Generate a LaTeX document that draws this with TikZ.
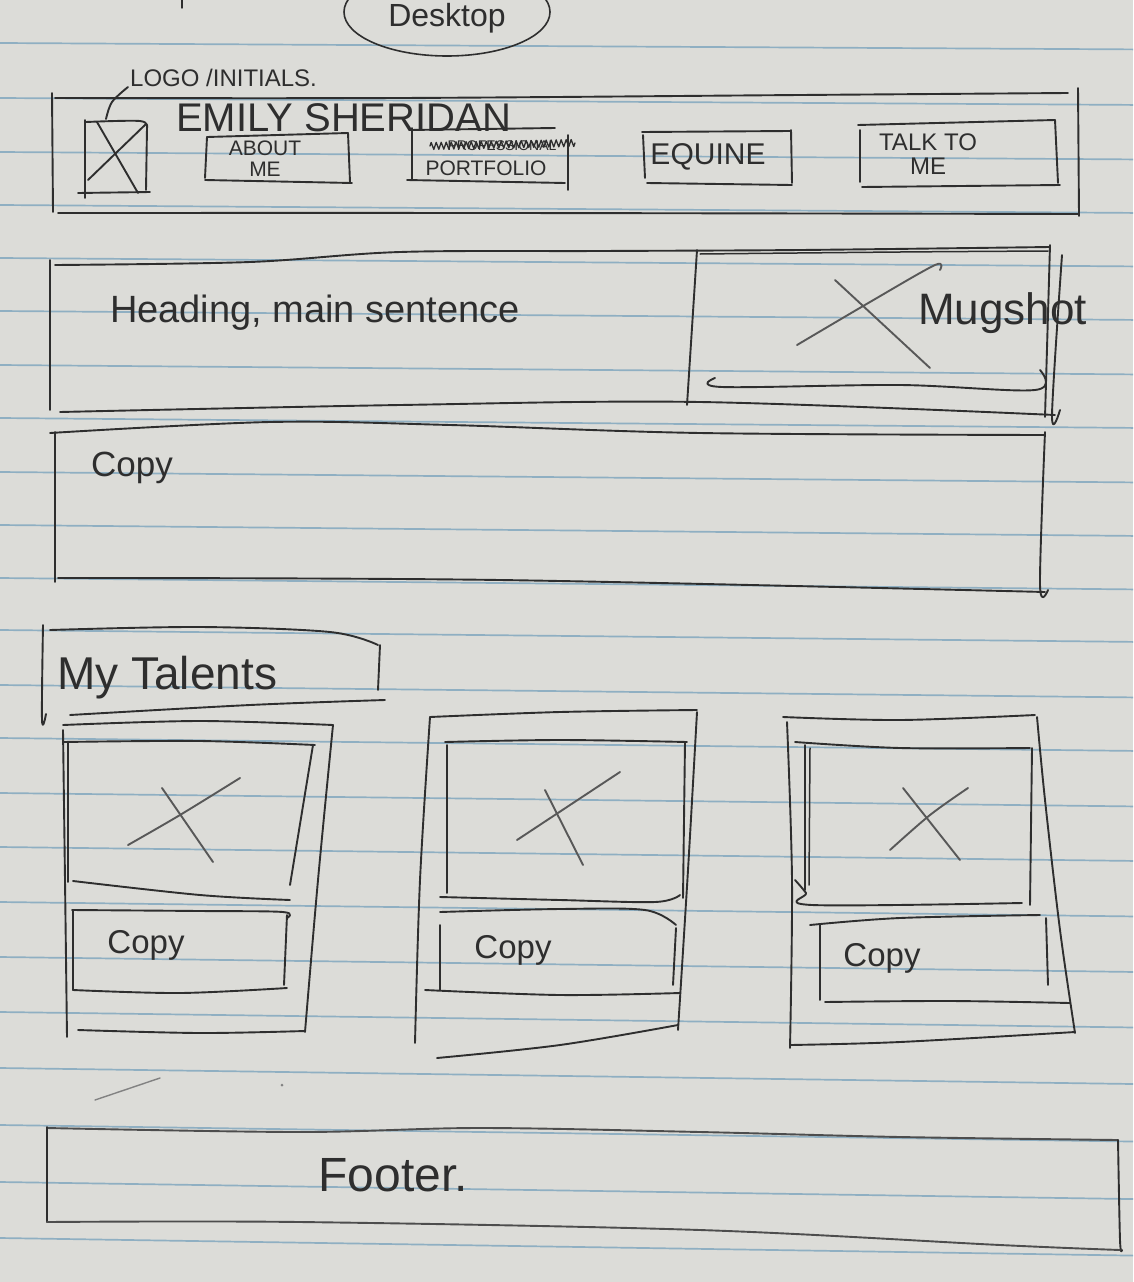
\documentclass[tikz,border=0pt]{standalone}
\usepackage{fontspec}
\setmainfont{Liberation Sans}
\usetikzlibrary{decorations.pathmorphing}
\definecolor{paper}{HTML}{DCDCD8}
\definecolor{ruling}{HTML}{8FAFC2}
\definecolor{ink}{HTML}{2E2E2E}
\newcommand\hsz[1]{\fontsize{#1}{#1}\selectfont}
% one hand-drawn stroke through the given points
\newcommand\penline[2][]{\draw[pen,#1] plot[smooth,tension=.55] coordinates {#2};}
\begin{document}
\begin{tikzpicture}[x=1pt,y=-1pt,
  pen/.style={draw=ink,line width=1.9pt,line cap=round,line join=round},
  rule/.style={draw=ruling,line width=1.7pt},
  hand/.style={text=ink,inner sep=0pt,align=center}]
\useasboundingbox (0,0) rectangle (1133,1282);
\fill[paper] (0,0) rectangle (1133,1282);

% ruled paper
\foreach \yy in {43,98,152,205,258,311,365,418,472,525,578,630,685,738,793,847,902,957,1012,1068,1125,1182,1238}{
  \pgfmathsetmacro\dd{6+12*\yy/1282}
  \draw[rule] (0,\yy) -- (1133,\yy+\dd);
}

% ---------- page label ----------
\draw[pen,line width=1.6pt] (447,12) ellipse [x radius=103, y radius=44];
\node[hand,font=\hsz{32}] (desk) at (447,18) {Desktop};
\penline[line width=1.4pt]{(182,0) (182,8)}

% ---------- header ----------
\penline{(52,93) (53,212)}
\penline{(55,98) (400,98) (800,95) (1068,93)}
\penline{(1078,88) (1079,216)}
\penline{(58,213) (500,213) (1078,214)}

% logo placeholder
\penline{(86,122) (140,121) (147,128)}
\penline{(147,128) (146,190)}
\penline{(78,193) (150,192)}
\penline{(85,120) (85,198)}
\penline{(88,180) (146,124)}
\penline{(97,122) (138,193)}
\penline{(106,119) (112,102) (128,87)}
\node[hand,font=\hsz{24},anchor=base west] (logolabel) at (130,86) {LOGO /INITIALS.};

\node[hand,font=\hsz{40},anchor=base west] (name) at (176,131) {EMILY SHERIDAN};

% navigation buttons
\penline{(207,137) (348,133)}
\penline{(348,133) (350,182)}
\penline{(205,180) (352,183)}
\penline{(207,137) (205,178)}
\node[hand,font=\hsz{21}] (about) at (265,159) {ABOUT\\ME};

\penline{(410,130) (555,128)}
\penline{(568,135) (568,190)}
\penline{(407,180) (565,183)}
\penline{(412,128) (412,180)}
\node[hand,font=\hsz{14}] (prof) at (502,146) {PROFESSIONAL};
\draw[pen,line width=1.3pt,decorate,decoration={zigzag,segment length=5pt,amplitude=3.5pt}] (430,146) -- (575,143);
\node[hand,font=\hsz{21}] (portfolio) at (486,168) {PORTFOLIO};

\penline{(642,132) (790,131)}
\penline{(791,130) (792,183)}
\penline{(647,183) (792,185)}
\penline{(643,135) (645,178)}
\node[hand,font=\hsz{30}] (equine) at (708,157) {EQUINE};

\penline{(858,125) (1055,120)}
\penline{(1055,120) (1058,183)}
\penline{(862,187) (1060,185)}
\penline{(860,130) (860,182)}
\node[hand,font=\hsz{24}] (talk) at (928,154) {TALK TO\\ME};

% ---------- hero ----------
\penline{(50,260) (50,410)}
\penline{(55,265) (250,262) (400,252) (600,251) (800,250) (1050,247)}
\penline[line width=1.5pt]{(700,254) (900,252) (1048,251)}
\penline{(697,250) (687,405)}
\penline{(60,412) (400,405) (700,402) (1055,415)}
\node[hand,font=\hsz{38}] (heading) at (315,313) {Heading, main sentence};

% portrait placeholder
\penline{(1050,245) (1045,417)}
\penline{(1062,255) (1052,415) (1060,410)}
\penline{(715,378) (722,387) (900,385) (1035,390) (1040,370)}
\penline[draw=ink!80]{(797,345) (870,302) (935,265) (940,270)}
\penline[draw=ink!80]{(835,280) (930,368)}
\node[hand,font=\hsz{44},anchor=base west] (mug) at (918,324) {Mugshot};

% ---------- intro copy ----------
\penline{(55,432) (55,582)}
\penline{(50,433) (270,422) (450,425) (700,433) (1045,435)}
\penline{(1045,432) (1040,585) (1048,590)}
\penline{(58,578) (500,580) (1045,592)}
\node[hand,font=\hsz{35}] (copy) at (132,468) {Copy};

% ---------- talents ----------
\penline{(43,625) (42,720) (46,714)}
\penline{(50,630) (200,627) (330,632) (378,645)}
\penline{(380,645) (378,690)}
\penline{(70,715) (250,705) (385,700)}
\node[hand,font=\hsz{46},anchor=base west] (talents) at (57,689) {My Talents};

% card 1
\penline{(63,725) (200,721) (333,725)}
\penline{(333,725) (318,880) (305,1032)}
\penline{(78,1030) (200,1033) (305,1031)}
\penline{(63,730) (65,880) (67,1037)}
\penline{(63,742) (200,741) (315,745)}
\penline{(68,742) (68,882)}
\penline{(313,745) (290,885)}
\penline{(73,881) (200,895) (290,900)}
\penline[draw=ink!80]{(128,845) (180,815) (240,778)}
\penline[draw=ink!80]{(162,788) (213,862)}
\penline{(72,910) (200,911) (283,912) (287,918)}
\penline{(73,910) (73,990)}
\penline{(287,915) (284,985)}
\penline{(73,990) (180,993) (287,988)}
\node[hand,font=\hsz{33}] (copya) at (146,945) {Copy};

% card 2
\penline{(430,717) (560,712) (697,710)}
\penline{(697,712) (688,870) (678,1030)}
\penline{(437,1058) (560,1045) (678,1025)}
\penline{(430,717) (420,880) (415,1043)}
\penline{(445,742) (560,740) (687,742)}
\penline{(447,745) (447,893)}
\penline{(685,742) (683,898)}
\penline{(440,897) (560,900) (655,902) (680,895)}
\penline[draw=ink!80]{(517,840) (570,805) (620,772)}
\penline[draw=ink!80]{(545,790) (583,865)}
\penline{(440,912) (560,909) (645,910) (676,925)}
\penline{(440,925) (440,990)}
\penline{(676,928) (673,985)}
\penline{(425,990) (560,995) (680,993)}
\node[hand,font=\hsz{33}] (copyb) at (513,950) {Copy};

% card 3
\penline{(783,717) (900,720) (1035,715)}
\penline{(1037,717) (1045,800) (1060,930) (1075,1033)}
\penline{(790,1045) (900,1042) (1075,1032)}
\penline{(787,722) (792,880) (790,1048)}
\penline{(795,742) (900,748) (1030,748)}
\penline{(805,745) (805,890)}
\penline[line width=1.5pt]{(810,748) (809,885)}
\penline{(1032,748) (1030,905)}
\penline{(795,880) (806,893) (812,905) (1022,903)}
\penline[draw=ink!80]{(890,850) (930,815) (968,788)}
\penline[draw=ink!80]{(903,788) (960,860)}
\penline{(810,925) (900,918) (1040,915)}
\penline{(820,925) (820,1000)}
\penline{(1046,918) (1048,985)}
\penline{(825,1002) (950,1001) (1070,1003)}
\node[hand,font=\hsz{33}] (copyc) at (882,958) {Copy};

% stray pen marks
\penline[draw=ink!60,line width=1.4pt]{(95,1100) (160,1078)}
\fill[ink!60] (282,1085) circle (1.5);

% ---------- footer ----------
\penline[draw=ink!85]{(47,1128) (300,1132) (480,1128) (700,1132) (900,1137) (1118,1140)}
\penline{(47,1127) (47,1222)}
\penline{(1118,1140) (1120,1240) (1122,1250)}
\penline[draw=ink!85]{(47,1222) (300,1222) (700,1230) (1000,1245) (1120,1250)}
\node[hand,font=\hsz{48}] (footer) at (393,1175) {Footer.};
\end{tikzpicture}
\end{document}
